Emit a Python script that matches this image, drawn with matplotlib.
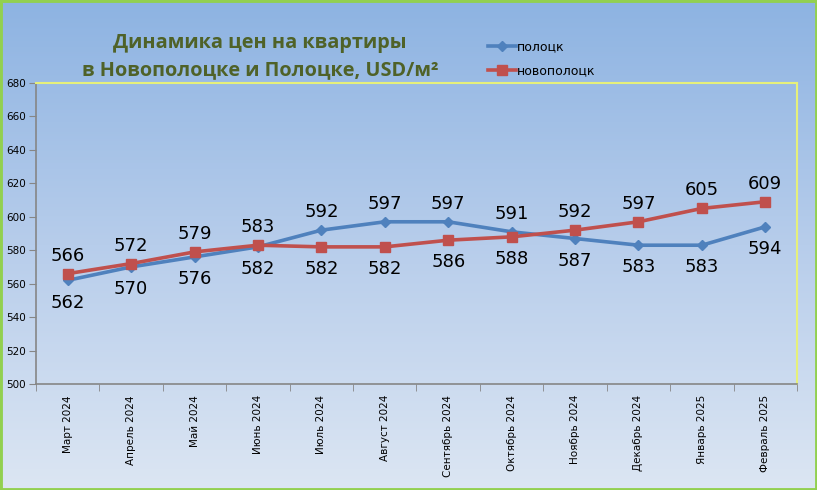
import numpy as np
import matplotlib
matplotlib.use("Agg")
import matplotlib.pyplot as plt
from matplotlib.patches import Rectangle
from matplotlib.colors import LinearSegmentedColormap

categories = ["Март 2024", "Апрель 2024", "Май 2024", "Июнь 2024", "Июль 2024",
              "Август 2024", "Сентябрь 2024", "Октябрь 2024", "Ноябрь 2024",
              "Декабрь 2024", "Январь 2025", "Февраль 2025"]
polotsk = [562, 570, 576, 582, 592, 597, 597, 591, 587, 583, 583, 594]
novopolotsk = [566, 572, 579, 583, 582, 582, 586, 588, 592, 597, 605, 609]
# label placement: 1 = above point, -1 = below
polotsk_pos = [-1, -1, -1, -1, 1, 1, 1, 1, -1, -1, -1, -1]
novopolotsk_pos = [1, 1, 1, 1, -1, -1, -1, -1, 1, 1, 1, 1]
yticks = [500, 520, 540, 560, 580, 600, 620, 640, 660, 680]

W, H = 817, 490
fig = plt.figure(figsize=(W / 100, H / 100), dpi=100)

# gradient background
bg = fig.add_axes([0, 0, 1, 1], zorder=-10)
cmap = LinearSegmentedColormap.from_list("bg", ["#8DB3E2", "#B7CDEB", "#DCE6F3"])
grad = np.linspace(0, 1, 256).reshape(-1, 1)
bg.imshow(grad, aspect="auto", cmap=cmap, extent=[0, 1, 0, 1])
bg.set_axis_off()
bg.add_patch(Rectangle((0, 0), 1, 1, transform=bg.transAxes, fill=False,
                       edgecolor="#92D050", linewidth=3.5, clip_on=False))

ax = fig.add_axes([36 / W, 1 - 384 / H, (797 - 36) / W, (384 - 83) / H])
ax.patch.set_alpha(0)
x = np.arange(len(categories))
blue = "#4F81BD"
red = "#C0504D"
ax.plot(x, polotsk, color=blue, lw=2.6, marker="D", ms=5.5, label="полоцк", zorder=3)
ax.plot(x, novopolotsk, color=red, lw=2.6, marker="s", ms=7.5, label="новополоцк", zorder=4)

for xi, v, p in zip(x, polotsk, polotsk_pos):
    ax.annotate(str(v), (xi, v), xytext=(0, 13 if p > 0 else -16), textcoords="offset points",
                ha="center", va="center", fontsize=13, color="black", family="DejaVu Sans")
for xi, v, p in zip(x, novopolotsk, novopolotsk_pos):
    ax.annotate(str(v), (xi, v), xytext=(0, 13 if p > 0 else -16), textcoords="offset points",
                ha="center", va="center", fontsize=13, color="black", family="DejaVu Sans")

ax.set_xlim(-0.5, len(categories) - 0.5)
ax.set_ylim(500, 680)
ax.set_yticks(yticks)
ax.set_yticklabels([str(t) for t in yticks], fontsize=7.5)
ax.set_xticks(x)
ax.set_xticklabels(categories, rotation=90, fontsize=7.5)
ax.tick_params(axis="x", length=0, pad=8)
ax.set_xticks(np.arange(-0.5, len(categories)), minor=True)
ax.tick_params(axis="x", which="minor", length=5, color="#868686")
ax.tick_params(axis="y", length=5, color="#868686", pad=2)
for s in ["left", "bottom"]:
    ax.spines[s].set_color("#868686")
    ax.spines[s].set_linewidth(1.2)
for s in ["top", "right"]:
    ax.spines[s].set_color("#E6F07A")
    ax.spines[s].set_linewidth(1.5)

fig.text(260 / W, 1 - 43 / H, "Динамика цен на квартиры", ha="center", va="center",
         fontsize=14.3, fontweight="bold", color="#4F6228", family="Open Sans")
fig.text(260 / W, 1 - 70 / H, "в Новополоцке и Полоцке, USD/м²", ha="center", va="center",
         fontsize=14.3, fontweight="bold", color="#4F6228", family="Open Sans")

leg = fig.legend(loc="upper left", bbox_to_anchor=(477 / W, 1 - 29 / H), frameon=False,
                 fontsize=9, handlelength=2.2, handletextpad=0.1, labelspacing=0.9)
plt.savefig("out.png", dpi=100)
